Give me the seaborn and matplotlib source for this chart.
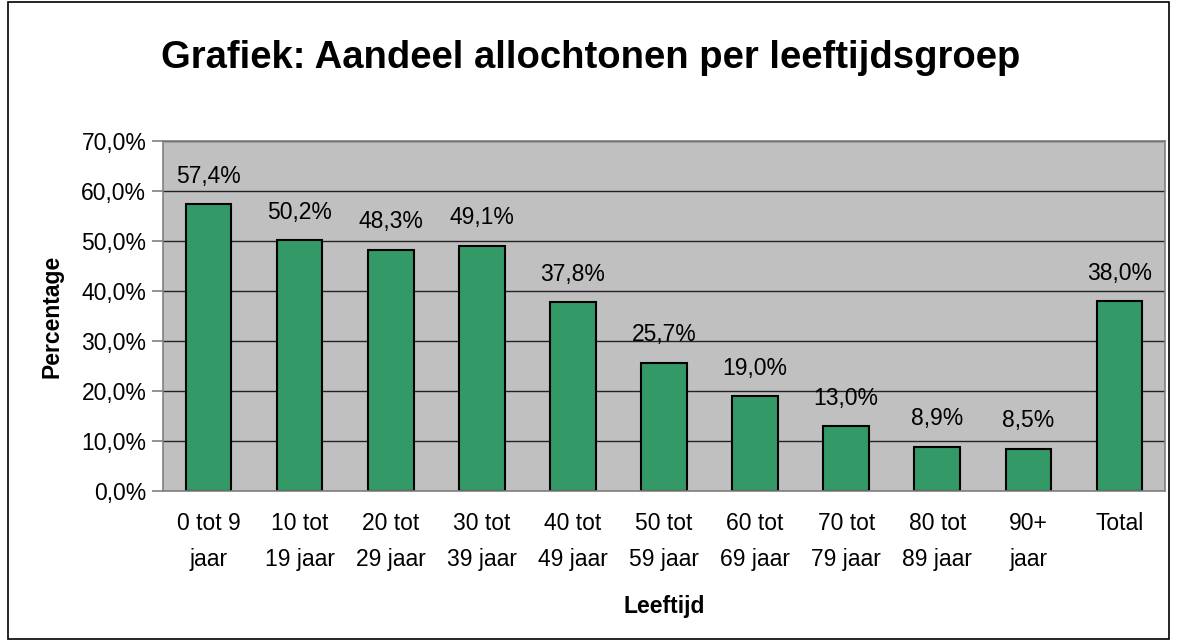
"""
Aandeel allochtonen per leeftijdsgroep - staafdiagram in Excel-stijl.
"""

import pandas as pd
import numpy as np
import matplotlib.pyplot as plt
import seaborn as sns
from matplotlib.patches import Rectangle
from matplotlib.ticker import FuncFormatter, MultipleLocator

# ---------------------------------------------------------------------------
# Data
# ---------------------------------------------------------------------------
groepen = ["0 tot 9\njaar", "10 tot\n19 jaar", "20 tot\n29 jaar", "30 tot\n39 jaar",
           "40 tot\n49 jaar", "50 tot\n59 jaar", "60 tot\n69 jaar", "70 tot\n79 jaar",
           "80 tot\n89 jaar", "90+\njaar", "Total"]
aandeel = [57.4, 50.2, 48.3, 49.1, 37.8, 25.7, 19.0, 13.0, 8.9, 8.5, 38.0]

df = pd.DataFrame({"groep": groepen, "aandeel": aandeel})

BAR_GREEN = "#339966"
PLOT_GREY = "#C0C0C0"
FS = 16.5

# ---------------------------------------------------------------------------
# Plot
# ---------------------------------------------------------------------------
sns.set_style("white")
plt.rcParams["font.family"] = ["Liberation Sans", "DejaVu Sans"]
plt.rcParams.update({"text.color": "black", "axes.labelcolor": "black",
                     "xtick.color": "black", "ytick.color": "black"})

fig = plt.figure(figsize=(11.77, 6.41), dpi=100)
ax = fig.add_axes([0.1385, 0.234, 0.8513, 0.546])

sns.barplot(data=df, x="groep", y="aandeel", color=BAR_GREEN, saturation=1,
            width=0.5, edgecolor="black", linewidth=1.5, ax=ax)

ax.set_facecolor(PLOT_GREY)
ax.set_ylim(0, 70)
ax.set_xlim(-0.5, len(groepen) - 0.5)
ax.yaxis.set_major_locator(MultipleLocator(10))
ax.yaxis.set_major_formatter(FuncFormatter(lambda v, p: f"{v:.1f}%".replace(".", ",")))
ax.grid(axis="y", color="#222222", linewidth=1)
ax.set_axisbelow(True)

for s in ["top", "right", "left", "bottom"]:
    ax.spines[s].set_color("#808080")
    ax.spines[s].set_linewidth(1.2)

# tick marks between categories on x, outward
ax.set_xticks(np.arange(len(groepen)))
ax.set_xticklabels(groepen, fontsize=FS, linespacing=1.75)
ax.tick_params(axis="x", length=0, pad=15)
ax.set_xticks(np.arange(-0.5, len(groepen), 1), minor=True)
ax.tick_params(axis="x", which="minor", length=7, color="#808080", width=1.2)
ax.tick_params(axis="y", length=8, color="#808080", width=1.2, labelsize=FS, pad=4,
               left=True)

for i, v in enumerate(aandeel):
    ax.text(i, v + 5.6, f"{v:.1f}%".replace(".", ","), ha="center", va="center",
            fontsize=FS)

ax.set_xlabel("Leeftijd", fontsize=FS, fontweight="bold", labelpad=17)
ax.set_ylabel("Percentage", fontsize=FS, fontweight="bold", labelpad=13)

fig.text(0.5 * (168 + 1013) / 1177, 1 - 58 / 641,
         "Grafiek: Aandeel allochtonen per leeftijdsgroep",
         ha="center", va="center", fontsize=27.5, fontweight="bold")

# outer chart border
fig.patches.append(Rectangle((8 / 1177, 2 / 641), 1161 / 1177, 637 / 641,
                             transform=fig.transFigure, fill=False,
                             edgecolor="black", linewidth=1.2))

fig.savefig("out.png", dpi=100)
